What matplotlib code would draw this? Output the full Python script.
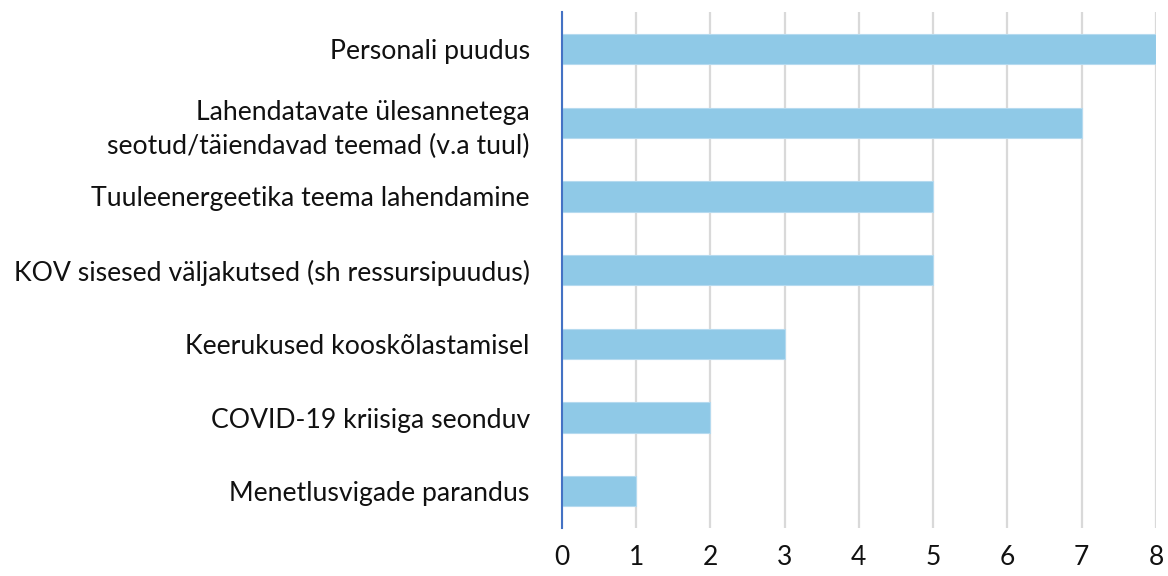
import matplotlib
matplotlib.use("Agg")
import matplotlib.pyplot as plt

categories = [
    "Personali puudus",
    "Lahendatavate ülesannetega\nseotud/täiendavad teemad (v.a tuul)",
    "Tuuleenergeetika teema lahendamine",
    "KOV sisesed väljakutsed (sh ressursipuudus)",
    "Keerukused kooskõlastamisel",
    "COVID-19 kriisiga seonduv",
    "Menetlusvigade parandus",
]
values = [8, 7, 5, 5, 3, 2, 1]
ticks = [0, 1, 2, 3, 4, 5, 6, 7, 8]

plt.rcParams['font.family'] = ['Lato', 'DejaVu Sans']

fig = plt.figure(figsize=(11.68, 5.76), dpi=100)
ax = fig.add_axes([0.481, 0.083, 0.5087, 0.896])

pos = list(range(len(categories)))
ax.barh(pos, values, height=0.41, color='#8FC9E7', edgecolor='#B5DAEF', linewidth=0.8, zorder=3)
ax.set_ylim(len(categories) - 0.5, -0.5)
ax.set_xlim(0, 8)
ax.set_xticks(ticks)
ax.set_xticklabels([str(t) for t in ticks])
ax.set_yticks(pos)
ax.set_yticklabels(categories, fontsize=19.2, color='#111111', linespacing=1.42)
ax.tick_params(axis='x', length=0, labelsize=19, pad=12, colors='#111111')
ax.tick_params(axis='y', length=0, pad=23)
for lbl in ax.get_yticklabels():
    lbl.set_horizontalalignment('right')

ax.grid(axis='x', color='#D9D9D9', linewidth=1.6, zorder=0)
for s in ['top', 'right', 'bottom']:
    ax.spines[s].set_visible(False)
ax.spines['left'].set_color('#4472C4')
ax.spines['left'].set_linewidth(1.5)
ax.spines['left'].set_zorder(4)

fig.savefig("out.png", dpi=100)
